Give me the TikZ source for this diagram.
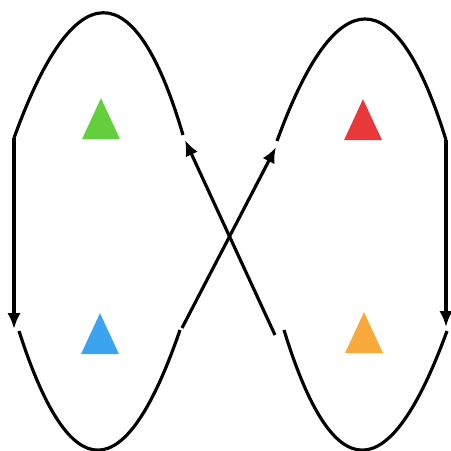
\documentclass[tikz,border=0pt]{standalone}
\usepackage{xcolor}
\usepackage{tikz}
\usetikzlibrary{arrows.meta, shapes.geometric}
\definecolor{triGreen}{HTML}{63CF3F}
\definecolor{triRed}{HTML}{E8383A}
\definecolor{triBlue}{HTML}{3BA3F0}
\definecolor{triOrange}{HTML}{F7A93B}
\definecolor{ink}{HTML}{000000}
\tikzset{
  tri/.style   = {isosceles triangle, isosceles triangle apex angle=50,
                  isosceles triangle stretches, shape border rotate=90,
                  minimum width=0.76cm, minimum height=0.82cm,
                  inner sep=0pt, draw=none},
  lobe/.style  = {draw=ink, line width=1.8pt},
  ar/.style    = {-{Latex[length=9pt,width=7.5pt]}, line width=1.8pt, draw=ink},
}
\begin{document}
\begin{tikzpicture}[x=0.02cm, y=-0.02cm]
  \useasboundingbox (0,0) rectangle (451,451);

  % ----- end points -----
  \coordinate (lta) at (14,138);   \coordinate (ltb) at (183,135);
  \coordinate (rta) at (277,141);  \coordinate (rtb) at (446,140);
  \coordinate (lba) at (19,331);   \coordinate (lbb) at (180,330);
  \coordinate (rba) at (284,330);  \coordinate (rbb) at (447,331);
  \coordinate (lvend) at (14,329); \coordinate (rvend) at (446,327);
  \coordinate (xa) at (182,328);   \coordinate (xaend) at (276,147);
  \coordinate (xb) at (275,335);   \coordinate (xbend) at (185,140);

  % ----- lobes -----
  \draw[lobe] (lta) .. controls (74,-28) and (135,-29) .. (ltb);
  \draw[lobe] (rta) .. controls (336,-21) and (396,-22) .. (rtb);
  \draw[lobe] (lba) .. controls (70,490) and (125,490) .. (lbb);
  \draw[lobe] (rba) .. controls (333,490) and (389,490) .. (rbb);

  % ----- arrows -----
  \draw[ar] (lta) -- (lvend);
  \draw[ar] (rtb) -- (rvend);
  \draw[ar] (xa) -- (xaend);
  \draw[ar] (xb) -- (xbend);

  % ----- triangles -----
  \node[tri, fill=triGreen] (tgreen) at (101,127) {};
  \node[tri, fill=triRed] (tred) at (363,128) {};
  \node[tri, fill=triBlue] (tblue) at (100,342) {};
  \node[tri, fill=triOrange] (torange) at (364,341) {};

\end{tikzpicture}
\end{document}
